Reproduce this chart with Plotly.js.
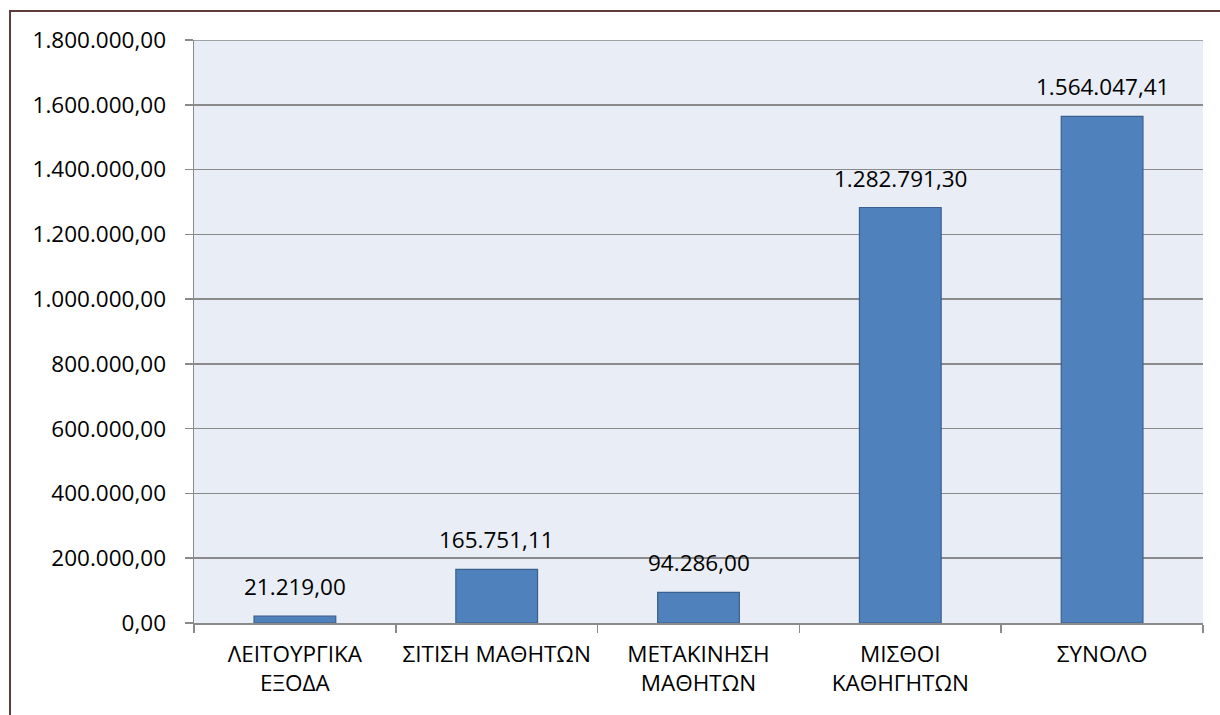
<!DOCTYPE html>
<html>
<head>
<meta charset="utf-8">
<script src="https://cdn.plot.ly/plotly-3.0.1.min.js"></script>
<style>
html,body{margin:0;padding:0;background:#fff;overflow:hidden;}
#wrap{position:relative;width:1220px;height:715px;}
#chart{position:absolute;left:0;top:0;width:1220px;height:715px;}
#frame{position:absolute;left:9px;top:10px;width:1300px;height:800px;border-left:2px solid #5e3c3c;border-top:2px solid #5e3c3c;pointer-events:none;}
</style>
</head>
<body>
<div id="wrap"><div id="chart"></div><div id="frame"></div></div>
<script>
const categories = ["ΛΕΙΤΟΥΡΓΙΚΑ<br>ΕΞΟΔΑ", "ΣΙΤΙΣΗ ΜΑΘΗΤΩΝ", "ΜΕΤΑΚΙΝΗΣΗ<br>ΜΑΘΗΤΩΝ", "ΜΙΣΘΟΙ<br>ΚΑΘΗΓΗΤΩΝ", "ΣΥΝΟΛΟ"];
const values = [21219.00, 165751.11, 94286.00, 1282791.30, 1564047.41];
const yTicks = [0, 200000, 400000, 600000, 800000, 1000000, 1200000, 1400000, 1600000, 1800000];
const yMax = 1800000;

const font = "Open Sans, sans-serif";
const FS = 22.5;

function fmt(v) {
  const parts = v.toFixed(2).split('.');
  return parts[0].replace(/\B(?=(\d{3})+(?!\d))/g, '.') + ',' + parts[1];
}

const annotations = categories.map((c, i) => ({
  x: c, y: values[i], xref: 'x', yref: 'y',
  text: fmt(values[i]),
  showarrow: false, yanchor: 'bottom', xanchor: 'center',
  yshift: 12,
  font: {family: font, size: FS, color: '#000'}
}));

Plotly.newPlot('chart', [{
  type: 'bar',
  x: categories,
  y: values,
  marker: {color: '#4f81bd', line: {color: '#3a6090', width: 1.2}},
  width: 0.405,
  hoverinfo: 'none'
}], {
  width: 1220, height: 715,
  margin: {l: 194, r: 17, t: 40, b: 92},
  paper_bgcolor: '#ffffff',
  plot_bgcolor: '#e9edf5',
  separators: ',.',
  showlegend: false,
  font: {family: font, size: FS, color: '#000'},
  annotations: annotations,
  shapes: [{
    type: 'line', xref: 'paper', yref: 'y', x0: 0, x1: 1, y0: yMax, y1: yMax,
    line: {color: '#8a8a8a', width: 1.5}
  }],
  xaxis: {
    type: 'category',
    tickson: 'boundaries',
    ticks: 'outside', ticklen: 8, tickcolor: '#8a8a8a', tickwidth: 1.5,
    showline: true, linecolor: '#8a8a8a', linewidth: 1.5,
    showgrid: false,
    ticklabelstandoff: 10,
    tickfont: {family: font, size: FS, color: '#000'},
    automargin: false
  },
  yaxis: {
    range: [0, yMax],
    tickvals: yTicks,
    tickformat: ',.2f',
    ticks: 'outside', ticklen: 8, tickcolor: '#8a8a8a', tickwidth: 1.5,
    showline: true, linecolor: '#8a8a8a', linewidth: 1.5,
    showgrid: true, gridcolor: '#8a8a8a', gridwidth: 1.5,
    zeroline: false,
    ticklabelstandoff: 14,
    tickfont: {family: font, size: FS, color: '#000'},
    automargin: false
  }
}, {staticPlot: true});
</script>
</body>
</html>
